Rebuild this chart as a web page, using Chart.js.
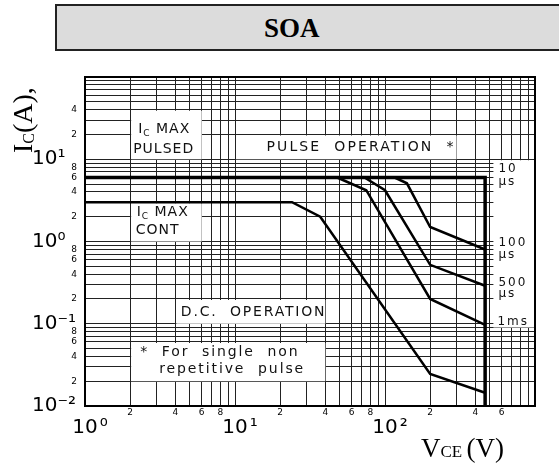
<!DOCTYPE html>
<html><head><meta charset="utf-8">
<script src="https://cdn.jsdelivr.net/npm/chart.js@4.4.1/dist/chart.umd.min.js"></script>
<style>
html,body{margin:0;padding:0;background:#fff;overflow:hidden;}
#wrap{position:relative;width:559px;height:466px;overflow:hidden;}
#titlebox{position:absolute;left:55px;top:4px;width:560px;height:43px;background:#dcdcdc;border:2px solid #222;box-sizing:content-box;}
#titletext{position:absolute;left:264px;top:13px;height:46px;line-height:46px;font:bold 27px "Liberation Serif","DejaVu Serif",serif;color:#000;}
canvas{position:absolute;left:0;top:0;}
</style></head>
<body><div id="wrap"><div id="titlebox"></div><div id="titletext">SOA</div><canvas id="c" width="559" height="466"></canvas></div>
<script>
// ---- axis tick labels ----
const xDecadeValues = [1, 10, 100];
const xDecadeLabels = ['10⁰', '10¹', '10²'];
const xMinorValues = [2, 4, 6, 8, 20, 40, 60, 80, 200, 400, 600];
const xMinorLabels = ['2', '4', '6', '8', '2', '4', '6', '8', '2', '4', '6'];
const yDecadeValues = [0.01, 0.1, 1, 10];
const yDecadeLabels = ['10⁻²', '10⁻¹', '10⁰', '10¹'];
const yMinorValues = [0.02, 0.04, 0.06, 0.08, 0.2, 0.4, 0.6, 0.8, 2, 4, 6, 8, 20, 40];
const yMinorLabels = ['2', '4', '6', '8', '2', '4', '6', '8', '2', '4', '6', '8', '2', '4'];

// ---- series (VCE in V, IC in A) ----
const limitV = [1, 465, 465];
const limitI = [6, 6, 0.01];
const dcV = [1, 24, 37, 200, 465];
const dcI = [3, 3, 2, 0.0245, 0.0145];
const ms1V = [48, 75, 200, 465];
const ms1I = [6, 4.2, 0.2, 0.097];
const us500V = [73, 100, 200, 465];
const us500I = [6, 4.2, 0.52, 0.29];
const us100V = [116, 140, 200, 465];
const us100I = [6, 5.1, 1.5, 0.8];

const SANS = '"DejaVu Sans","Liberation Sans",sans-serif';
const SERIF = '"Liberation Serif","DejaVu Serif",serif';

function gridValues(min, max) {
  const v = [];
  for (let d = min; d < max * 0.999; d = +(d * 10).toPrecision(6)) {
    for (let m = 1; m < 10; m++) v.push(+(d * m).toPrecision(6));
  }
  v.push(max);
  return v;
}
function labelFor(values, labels, v) {
  for (let i = 0; i < values.length; i++) if (Math.abs(values[i] / v - 1) < 1e-6) return labels[i];
  return '';
}
const pts = (xs, ys) => xs.map((x, i) => ({ x, y: ys[i] }));

// ---- annotation boxes (data-space corners, text offsets in px) ----
const textBoxes = [
  { x0: 2, x1: 6, y0: 40, y1: 10, font: 14, ls: 1, lines: [
    { dx: 8, dy: 23.5, segs: [['I', 0], ['C', 1], [' MAX', 0]] },
    { dx: 3, dy: 43, segs: [['PULSED', 0]] } ] },
  { x0: 2, x1: 6, y0: 3, y1: 1, font: 14, ls: 1, lines: [
    { dx: 6.5, dy: 14, segs: [['I', 0], ['C', 1], [' MAX', 0]] },
    { dx: 5.5, dy: 32, segs: [['CONT', 0]] } ] },
  { x0: 10, x1: 300, y0: 20, y1: 10, font: 14, ls: 2.1, lines: [
    { dx: 31.5, dy: 16.5, segs: [['PULSE  OPERATION  *', 0]] } ] },
  { x0: 4, x1: 40, y0: 0.2, y1: 0.1, font: 14, ls: 1.8, lines: [
    { dx: 5.5, dy: 17, segs: [['D.C.  OPERATION', 0]] } ] },
  { x0: 2, x1: 40, y0: 0.06, y1: 0.02, font: 14, ls: 1.9, lines: [
    { dx: 10, dy: 14, segs: [['*  For  single  non', 0]] },
    { dx: 29, dy: 31, segs: [['repetitive  pulse', 0]] } ] },
  { x0: 520, x1: 1000, y0: 10, y1: 0.09, font: 12, ls: 2, lines: [
    { dx: 6, dy: 12.5, segs: [['10', 0]] },
    { dx: 6, dy: 25.5, segs: [['µs', 0]] },
    { dx: 6, dy: 87, segs: [['100', 0]] },
    { dx: 6, dy: 99, segs: [['µs', 0]] },
    { dx: 6, dy: 127, segs: [['500', 0]] },
    { dx: 6, dy: 137.5, segs: [['µs', 0]] },
    { dx: 5, dy: 165.5, segs: [['1ms', 0]] } ] }
];

const boxPlugin = {
  id: 'boxes',
  beforeDatasetsDraw(chart) {
    const { ctx, scales: { x, y } } = chart;
    ctx.save();
    for (const b of textBoxes) {
      const L = x.getPixelForValue(b.x0), R = x.getPixelForValue(b.x1);
      const T = y.getPixelForValue(b.y0), B = y.getPixelForValue(b.y1);
      ctx.fillStyle = '#fff';
      ctx.fillRect(L + 1, T + 1, R - L - 1, B - T - 1);
      ctx.fillStyle = '#111';
      ctx.textBaseline = 'alphabetic';
      ctx.textAlign = 'left';
      for (const ln of b.lines) {
        let px = L + ln.dx;
        for (const [t, sub] of ln.segs) {
          const fs = sub ? Math.round(b.font * 0.65) : b.font;
          ctx.font = fs + 'px ' + SANS;
          try { ctx.letterSpacing = b.ls + 'px'; } catch (e) {}
          ctx.fillText(t, px, T + ln.dy + (sub ? 2.5 : 0));
          px += ctx.measureText(t).width;
        }
      }
    }
    try { ctx.letterSpacing = '0px'; } catch (e) {}
    ctx.restore();
  },
  afterDatasetsDraw(chart) {
    const { ctx, chartArea: a } = chart;
    ctx.save();
    ctx.strokeStyle = '#000';
    ctx.lineWidth = 2;
    ctx.strokeRect(a.left, a.top, a.right - a.left, a.bottom - a.top);
    ctx.restore();
  },
  afterDraw(chart) {
    const ctx = chart.ctx;
    ctx.save();
    ctx.fillStyle = '#000';
    ctx.textBaseline = 'alphabetic';
    ctx.textAlign = 'left';
    // y title (rotated)
    ctx.translate(32, 153);
    ctx.rotate(-Math.PI / 2);
    let p = 0;
    ctx.font = '28px ' + SERIF; ctx.fillText('I', p, 0); p += ctx.measureText('I').width;
    ctx.font = '16px ' + SERIF; ctx.fillText('C', p, 1.5); p += ctx.measureText('C').width;
    ctx.font = '28px ' + SERIF; ctx.fillText('(A),', p, 0);
    ctx.setTransform(1, 0, 0, 1, 0, 0);
    // x title
    p = 421;
    ctx.font = '27px ' + SERIF; ctx.fillText('V', p, 456.5); p += ctx.measureText('V').width;
    ctx.font = '17px ' + SERIF; ctx.fillText('CE', p, 457); p += ctx.measureText('CE ').width;
    ctx.font = '27px ' + SERIF; ctx.fillText('(V)', p, 456.5);
    ctx.restore();
  }
};

const lineDs = (label, data, w) => ({
  label, data, borderColor: '#000', borderWidth: w, pointRadius: 0, tension: 0, fill: false,
  xAxisID: 'x', yAxisID: 'y'
});

new Chart(document.getElementById('c'), {
  type: 'line',
  data: {
    datasets: [
      lineDs('10 µs (limit)', pts(limitV, limitI), 3.5),
      lineDs('D.C.', pts(dcV, dcI), 2.5),
      lineDs('1 ms', pts(ms1V, ms1I), 2.5),
      lineDs('500 µs', pts(us500V, us500I), 2.5),
      lineDs('100 µs', pts(us100V, us100I), 2.5)
    ]
  },
  options: {
    responsive: false,
    animation: false,
    devicePixelRatio: 1,
    layout: { padding: { top: 77, right: 24, left: 31, bottom: 27 } },
    plugins: { legend: { display: false }, tooltip: { enabled: false } },
    scales: {
      x: {
        type: 'logarithmic', position: 'bottom', min: 1, max: 1000, weight: 0,
        afterBuildTicks: s => { s.ticks = gridValues(1, 1000).map(v => ({ value: v })); },
        afterFit: s => { s.height = 10; },
        ticks: { autoSkip: false, maxRotation: 0, minRotation: 0, padding: 1, color: '#000',
          font: { family: SANS, size: 9 },
          callback: v => labelFor(xMinorValues, xMinorLabels, v) },
        grid: { color: '#222', lineWidth: 1, drawTicks: false },
        border: { display: true, color: '#000', width: 2 }
      },
      xDec: {
        type: 'logarithmic', position: 'bottom', axis: 'x', min: 1, max: 1000, weight: 1,
        afterBuildTicks: s => { s.ticks = xDecadeValues.map(v => ({ value: v })); },
        afterFit: s => { s.height = 23; },
        ticks: { autoSkip: false, maxRotation: 0, minRotation: 0, padding: 0, color: '#000',
          font: { family: SANS, size: 20 },
          callback: v => { const l = labelFor(xDecadeValues, xDecadeLabels, v); return l ? '\u2002' + l.slice(0, 2) + '\u200A' + l.slice(2) : ''; } },
        grid: { display: false, drawTicks: false },
        border: { display: false }
      },
      y: {
        type: 'logarithmic', position: 'left', min: 0.01, max: 100, weight: 0,
        afterBuildTicks: s => { s.ticks = gridValues(0.01, 100).map(v => ({ value: v })); },
        afterFit: s => { s.width = 18; },
        ticks: { autoSkip: false, padding: 8, color: '#000',
          font: { family: SANS, size: 9 },
          callback: v => labelFor(yMinorValues, yMinorLabels, v) },
        grid: { color: '#222', lineWidth: 1, drawTicks: false },
        border: { display: true, color: '#000', width: 2 }
      },
      yDec: {
        type: 'logarithmic', position: 'left', axis: 'y', min: 0.01, max: 100, weight: 1,
        afterBuildTicks: s => { s.ticks = yDecadeValues.map(v => ({ value: v })); },
        afterFit: s => { s.width = 36; },
        ticks: { autoSkip: false, mirror: true, padding: -35, crossAlign: 'near', color: '#000',
          font: { family: SANS, size: 20 },
          callback: v => labelFor(yDecadeValues, yDecadeLabels, v) },
        grid: { display: false, drawTicks: false },
        border: { display: false }
      }
    }
  },
  plugins: [boxPlugin]
});
</script>
</body></html>
